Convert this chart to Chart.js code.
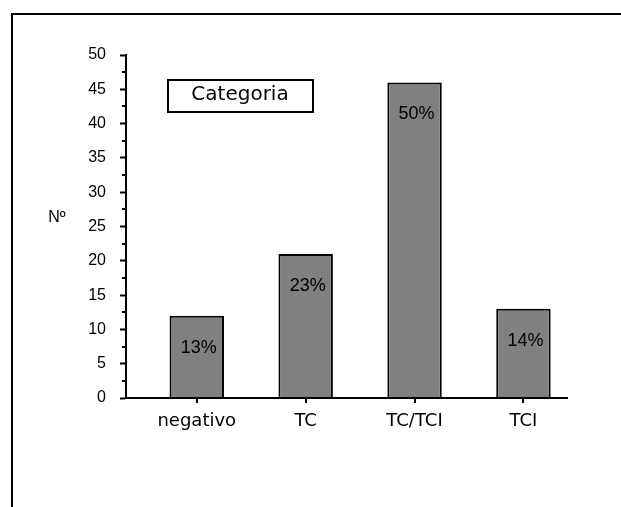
<!DOCTYPE html>
<html>
<head>
<meta charset="utf-8">
<script src="https://cdn.jsdelivr.net/npm/chart.js@4.4.1/dist/chart.umd.min.js"></script>
<style>
  html, body { margin: 0; padding: 0; background: #fff; }
</style>
</head>
<body>
<canvas id="grafik" width="621" height="507"></canvas>
<script>
// data
const kategori = ['negativo', 'TC', 'TC/TCI', 'TCI'];
const jumlah = [12, 21, 46, 13];
const persen = ['13%', '23%', '50%', '14%'];
const judulLegenda = 'Categoria';
const judulY = 'Nº';

// frame, legend box, y title, percent labels, minor ticks
const hiasan = {
  id: 'hiasan',
  beforeDraw(chart) {
    const c = chart.ctx;
    c.save();
    c.strokeStyle = '#000';
    c.lineWidth = 2;
    c.beginPath();
    c.moveTo(12, 507);
    c.lineTo(12, 14);
    c.lineTo(621, 14);
    c.stroke();
    c.restore();
  },
  afterDraw(chart) {
    const c = chart.ctx;
    const area = chart.chartArea;
    const y = chart.scales.y;
    const x = chart.scales.x;
    c.save();

    // minor ticks on y, category ticks on x
    c.strokeStyle = '#000';
    c.lineWidth = 2;
    y.ticks.forEach(t => {
      if (t.value % 5 !== 0) {
        const py = Math.round(y.getPixelForValue(t.value));
        c.beginPath();
        c.moveTo(area.left - 4, py);
        c.lineTo(area.left, py);
        c.stroke();
      }
    });
    x.ticks.forEach(t => {
      const px = Math.round(x.getPixelForValue(t.value));
      c.beginPath();
      c.moveTo(px, area.bottom);
      c.lineTo(px, area.bottom + 5);
      c.stroke();
    });

    // percent labels inside bars
    c.fillStyle = '#000';
    c.font = '18px "Liberation Sans", Arial, sans-serif';
    c.textAlign = 'center';
    c.textBaseline = 'middle';
    chart.getDatasetMeta(0).data.forEach((bar, i) => {
      c.fillText(persen[i], bar.x + 2, bar.y + 32);
    });

    // y title
    c.font = '16px "Liberation Sans", Arial, sans-serif';
    c.fillText(judulY, 57, 218);

    // legend box
    c.lineWidth = 2;
    c.strokeRect(168, 80, 145, 32);
    c.font = '20px "DejaVu Sans", sans-serif';
    c.fillText(judulLegenda, 240, 95);

    c.restore();
  }
};

new Chart(document.getElementById('grafik'), {
  type: 'bar',
  data: {
    datasets: [{
      data: jumlah.map((v, i) => ({ x: i + 1, y: v })),
      backgroundColor: '#808080',
      borderColor: '#000',
      borderWidth: 2,
      barPercentage: 0.5,
      categoryPercentage: 1
    }]
  },
  options: {
    responsive: false,
    animation: false,
    devicePixelRatio: 1,
    layout: {
      padding: { top: 55, right: 54, bottom: 0, left: 0 }
    },
    scales: {
      x: {
        type: 'linear',
        min: 0.35,
        max: 4.4,
        offset: false,
        afterBuildTicks: scale => {
          scale.ticks = kategori.map((k, i) => ({ value: i + 1 }));
        },
        afterFit: scale => { scale.height = 109; },
        border: { color: '#000', width: 2, z: 1 },
        grid: { offset: false, display: false },
        ticks: {
          color: '#000',
          padding: 5,
          maxRotation: 0,
          autoSkip: false,
          font: { family: '"DejaVu Sans", sans-serif', size: 18 },
          callback: v => kategori[v - 1]
        }
      },
      y: {
        min: 0,
        max: 50,
        afterFit: scale => { scale.width = 126; },
        border: { color: '#000', width: 2 },
        grid: {
          drawOnChartArea: false,
          tickLength: 6,
          tickWidth: 2,
          tickColor: ctx => (ctx.tick && ctx.tick.value % 5 === 0 ? '#000' : 'rgba(0,0,0,0)')
        },
        ticks: {
          stepSize: 2.5,
          autoSkip: false,
          color: '#000',
          padding: 14,
          font: { family: '"Liberation Sans", Arial, sans-serif', size: 16 },
          callback: v => (v % 5 === 0 ? v : '')
        }
      }
    },
    plugins: {
      legend: { display: false },
      tooltip: { enabled: false }
    }
  },
  plugins: [hiasan]
});
</script>
</body>
</html>
